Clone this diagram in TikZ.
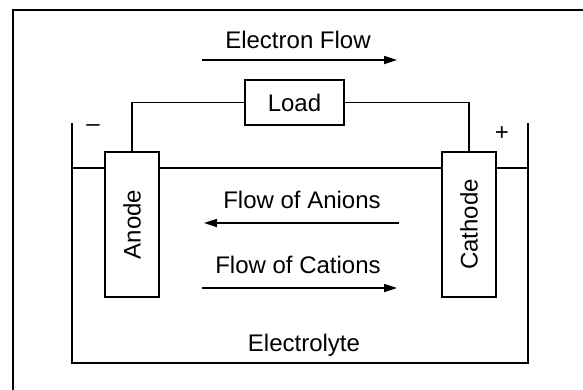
\documentclass[tikz,border=0pt]{standalone}
\usepackage{fontspec}
\setmainfont{Liberation Sans}
\usetikzlibrary{arrows.meta}
\begin{document}
\begin{tikzpicture}[x=1pt,y=-1pt,
  lbl/.style={font=\fontsize{24}{28}\selectfont,inner sep=0pt},
  elbox/.style={draw,line width=1.7pt,fill=white,minimum width=54pt,minimum height=145pt,inner sep=0pt,font=\fontsize{24}{28}\selectfont},
  loadbox/.style={draw,line width=1.7pt,minimum width=99pt,minimum height=45pt,inner sep=0pt,font=\fontsize{24}{28}\selectfont},
  wire/.style={line width=1.7pt},
  wall/.style={line width=2.7pt},
  flow/.style={line width=1.7pt,-{Triangle[length=13pt,width=8pt]}}]
\useasboundingbox (0,0) rectangle (583,389);
\clip (0,0) rectangle (583,389);

% frame
\draw[line width=2.3pt] (620,10) -- (13,10) -- (13,420);

% tank
\draw[wall] (72,123) -- (72,363) -- (528,363) -- (528,123);
\coordinate (lvlL) at (72,168);
\coordinate (lvlR) at (528,168);

% electrodes and load
\node[elbox] (anode) at (132,224.5) {\rotatebox{90}{Anode}};
\node[elbox] (cathode) at (469,224.5) {\rotatebox{90}{Cathode}};
\node[loadbox] (load) at (294.5,102.5) {Load};

\draw[wire] (lvlL) -- (anode.west |- lvlL);
\draw[wire] (anode.east |- lvlL) -- (cathode.west |- lvlL);
\draw[wire] (cathode.east |- lvlR) -- (lvlR);

\draw[wire] (anode.north) |- (load.west);
\draw[wire] (cathode.north) |- (load.east);

% signs
\node[lbl] (minus) at (93,128) {–};
\node[lbl] (plus) at (502,134) {+};

% labels and flows
\node[lbl,anchor=base] (eflow) at (298,48) {Electron Flow};
\coordinate (e1) at (202,60);
\coordinate (e2) at (397,60);
\draw[flow] (e1) -- (e2);

\node[lbl,anchor=base] (anions) at (302,208) {Flow of Anions};
\coordinate (a1) at (399,223);
\coordinate (a2) at (204,223);
\draw[flow] (a1) -- (a2);

\node[lbl,anchor=base] (cations) at (298,273) {Flow of Cations};
\coordinate (c1) at (202,288);
\coordinate (c2) at (397,288);
\draw[flow] (c1) -- (c2);

\node[lbl,anchor=base] (electrolyte) at (304,351) {Electrolyte};
\end{tikzpicture}
\end{document}
